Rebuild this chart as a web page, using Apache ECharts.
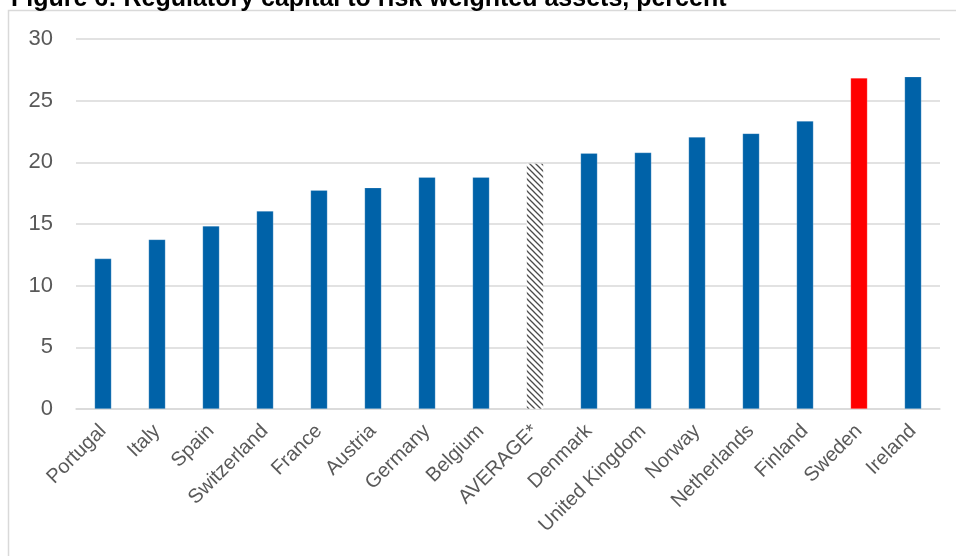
<!DOCTYPE html>
<html>
<head>
<meta charset="utf-8">
<script src="https://cdn.jsdelivr.net/npm/echarts@6/dist/echarts.min.js"></script>
<style>
  html, body { margin: 0; padding: 0; background: #fff; }
  #chart { width: 956px; height: 556px; }
</style>
</head>
<body>
<div id="chart"></div>
<script>
// Capital ratios by country, percent
const countries = ['Portugal', 'Italy', 'Spain', 'Switzerland', 'France', 'Austria', 'Germany', 'Belgium',
  'AVERAGE*', 'Denmark', 'United Kingdom', 'Norway', 'Netherlands', 'Finland', 'Sweden', 'Ireland'];
const ratios = [12.2, 13.75, 14.85, 16.05, 17.75, 17.95, 18.8, 18.8,
  19.9, 20.75, 20.8, 22.05, 22.35, 23.35, 26.85, 26.95];
const yTicks = [0, 5, 10, 15, 20, 25, 30];

const BLUE = '#0062a8';
const RED = '#ff0000';
const FONT = 'Liberation Sans, Arial, sans-serif';

// Diagonal hatch for the average bar
function hatchPattern() {
  const c = document.createElement('canvas');
  c.width = 6; c.height = 6;
  const g = c.getContext('2d');
  g.fillStyle = '#ffffff';
  g.fillRect(0, 0, 6, 6);
  g.strokeStyle = '#4a4a4a';
  g.lineWidth = 1.3;
  g.beginPath();
  g.moveTo(-1, -1); g.lineTo(7, 7);
  g.moveTo(-4, 2); g.lineTo(4, 10);
  g.moveTo(2, -4); g.lineTo(10, 4);
  g.stroke();
  return c;
}
const hatch = { image: hatchPattern(), repeat: 'repeat' };

const barData = countries.map((name, i) => {
  let color = BLUE;
  if (name === 'AVERAGE*') color = hatch;
  else if (name === 'Sweden') color = RED;
  return { value: ratios[i], itemStyle: { color: color } };
});

const chart = echarts.init(document.getElementById('chart'), null, { renderer: 'canvas' });
chart.setOption({
  animation: false,
  title: {
    text: 'Figure 6: Regulatory capital to risk weighted assets, percent',
    left: 6, top: -18,
    textStyle: { fontFamily: FONT, fontWeight: 'bold', fontSize: 25, color: '#000' }
  },
  graphic: [{
    type: 'rect', z: -10, silent: true,
    shape: { x: 8.5, y: 10.5, width: 1000, height: 700 },
    style: { fill: 'none', stroke: '#d9d9d9', lineWidth: 1.5 }
  }],
  grid: { left: 76, right: 16, top: 39, bottom: 147, containLabel: false },
  xAxis: {
    type: 'category',
    data: countries,
    axisLine: { show: true, lineStyle: { color: '#d9d9d9', width: 1.5 } },
    axisTick: { show: false },
    axisLabel: {
      rotate: 45, interval: 0, margin: 19,
      color: '#595959', fontSize: 20, fontFamily: FONT
    }
  },
  yAxis: {
    type: 'value',
    min: yTicks[0], max: yTicks[yTicks.length - 1], interval: 5,
    axisLine: { show: false },
    axisTick: { show: false },
    splitLine: { lineStyle: { color: '#d9d9d9', width: 1.5 } },
    axisLabel: {
      margin: 23,
      color: '#595959', fontSize: 22, fontFamily: FONT
    }
  },
  series: [{
    type: 'bar',
    data: barData,
    barWidth: 17,
    itemStyle: { borderColor: 'rgba(255,255,255,0.35)', borderWidth: 0.6 }
  }]
});
</script>
</body>
</html>
